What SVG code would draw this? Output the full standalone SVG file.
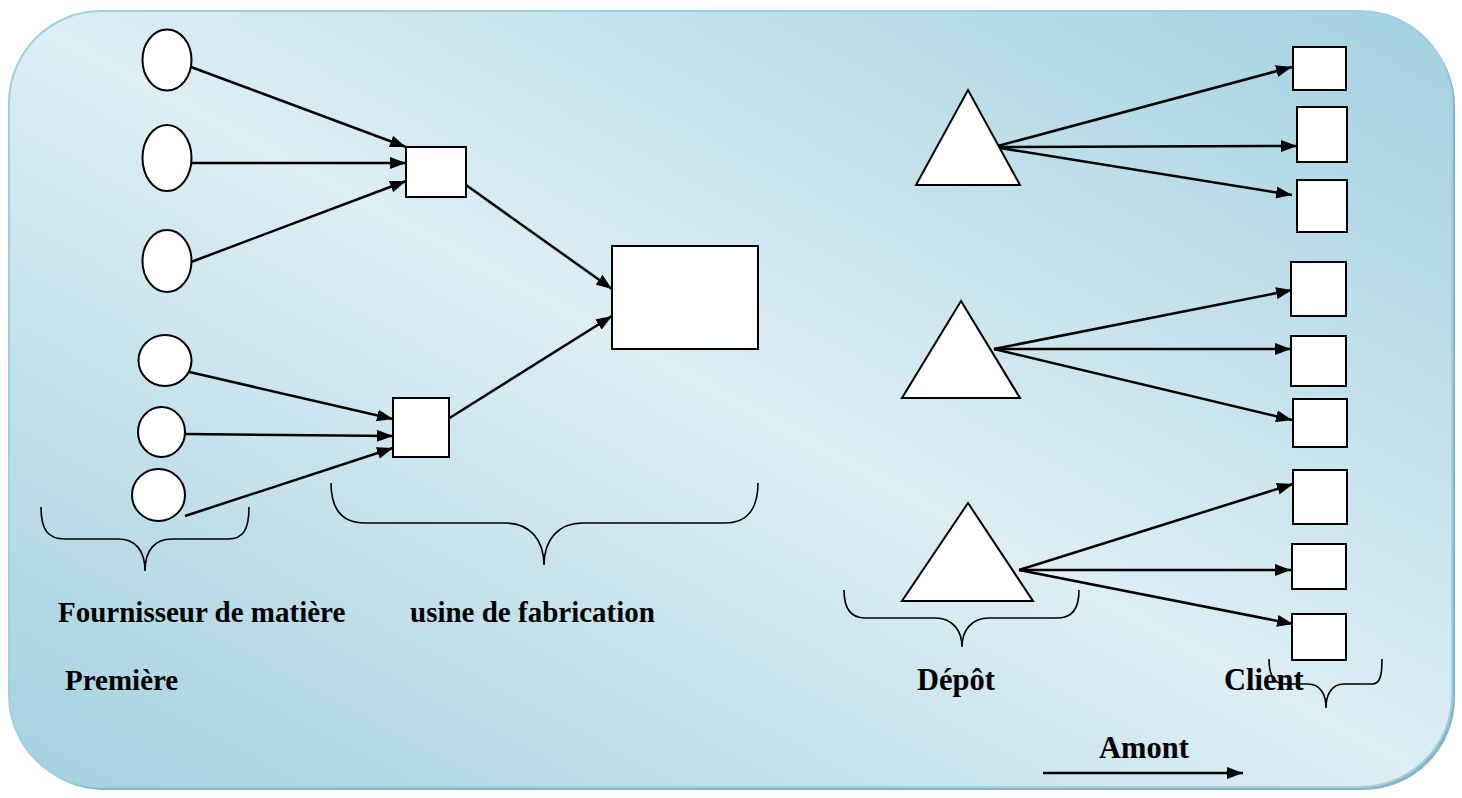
<svg xmlns="http://www.w3.org/2000/svg" width="1462" height="798" viewBox="0 0 1462 798">
<style>
.node{fill:#fff;stroke:#000;stroke-width:2}
.edge{fill:none;stroke:#000;stroke-width:2.5;marker-end:url(#arr)}
.brace{fill:none;stroke:#000;stroke-width:1.6}
.lbl{font-family:"Liberation Serif","Times New Roman",serif;font-weight:bold;font-size:29px;fill:#000}
</style>
<defs>
<linearGradient id="bg" x1="0" y1="1" x2="1" y2="0">
<stop offset="0" stop-color="#a4d1e0"/>
<stop offset="0.5" stop-color="#ddeef4"/>
<stop offset="1" stop-color="#a2d1e0"/>
</linearGradient>
<marker id="arr" viewBox="0 0 16 12" refX="16" refY="6" markerWidth="16" markerHeight="12" markerUnits="userSpaceOnUse" orient="auto">
<path d="M0,0 L16,6 L0,12 z" fill="#000"/>
</marker>
</defs>
<g id="background">
<rect x="12" y="14" width="1443" height="776" rx="92" ry="92" fill="#86b5c7"/>
<rect x="9" y="11" width="1443" height="776" rx="92" ry="92" fill="url(#bg)" stroke="#9fd0e0" stroke-width="2"/>
</g>
<g id="connectors">
<line class="edge" x1="191" y1="67" x2="406" y2="147"/>
<line class="edge" x1="191" y1="163" x2="406" y2="163"/>
<line class="edge" x1="191" y1="262" x2="406" y2="181"/>
<line class="edge" x1="185" y1="371" x2="393" y2="419"/>
<line class="edge" x1="185" y1="434" x2="393" y2="436"/>
<line class="edge" x1="185" y1="516" x2="393" y2="448"/>
<line class="edge" x1="466" y1="185" x2="612" y2="289"/>
<line class="edge" x1="448" y1="419" x2="612" y2="316"/>
<line class="edge" x1="994" y1="147" x2="1292" y2="67"/>
<line class="edge" x1="994" y1="147" x2="1297" y2="146"/>
<line class="edge" x1="994" y1="147" x2="1292" y2="195"/>
<line class="edge" x1="994" y1="349" x2="1292" y2="290"/>
<line class="edge" x1="994" y1="349" x2="1291" y2="349"/>
<line class="edge" x1="994" y1="349" x2="1292" y2="420"/>
<line class="edge" x1="1019" y1="570" x2="1293" y2="484"/>
<line class="edge" x1="1019" y1="570" x2="1291" y2="570"/>
<line class="edge" x1="1019" y1="570" x2="1293" y2="624"/>
<line class="edge" x1="1043" y1="773" x2="1243" y2="773"/>
</g>
<g id="fournisseurs">
<ellipse class="node" cx="167" cy="60" rx="24.5" ry="30.5"/>
<ellipse class="node" cx="167" cy="158" rx="24.5" ry="33"/>
<ellipse class="node" cx="167" cy="261" rx="24.5" ry="31"/>
<ellipse class="node" cx="165" cy="360.5" rx="26.5" ry="25.5"/>
<ellipse class="node" cx="161.5" cy="432" rx="23.5" ry="25"/>
<ellipse class="node" cx="158.5" cy="495" rx="26.5" ry="26"/>
</g>
<g id="usines">
<rect class="node" x="406" y="147" width="60" height="50"/>
<rect class="node" x="393" y="398" width="56" height="59"/>
<rect class="node" x="612" y="246" width="146" height="103"/>
</g>
<g id="depots">
<polygon class="node" points="968,90 916,185 1020,185"/>
<polygon class="node" points="961,301 902,398 1020,398"/>
<polygon class="node" points="968,503 902,601 1033,601"/>
</g>
<g id="clients">
<rect class="node" x="1293" y="47" width="53" height="43"/>
<rect class="node" x="1297" y="107" width="50" height="55"/>
<rect class="node" x="1297" y="180" width="50" height="52"/>
<rect class="node" x="1291" y="262" width="55" height="54"/>
<rect class="node" x="1291" y="336" width="55" height="50"/>
<rect class="node" x="1293" y="399" width="54" height="48"/>
<rect class="node" x="1293" y="470" width="54" height="54"/>
<rect class="node" x="1292" y="544" width="54" height="45"/>
<rect class="node" x="1292" y="614" width="54" height="46"/>
</g>
<g id="braces">
<path class="brace" d="M41,507 C41,530 48,539 65,539 L118,539 C135,539 145,550 145,571 C145,550 155,539 172,539 L228,539 C243,539 249,530 249,507"/>
<path class="brace" d="M331,483 C331,510 343,523 365,523 L505,523 C530,523 544,540 544,565 C544,540 558,523 583,523 L725,523 C746,523 758,510 758,483"/>
<path class="brace" d="M844,590 C844,608 850,618 865,618 L935,618 C952,618 962,630 962,647 C962,630 972,618 989,618 L1058,618 C1073,618 1079,608 1079,590"/>
<path class="brace" d="M1269,659 C1269,676 1274,684 1285,684 L1308,684 C1320,684 1326,694 1326,708 C1326,694 1332,684 1344,684 L1372,684 C1380,684 1382,676 1382,659"/>
</g>
<g id="labels">
<text class="lbl" x="58" y="622">Fournisseur de matière</text>
<text class="lbl" x="65" y="690">Première</text>
<text class="lbl" x="410" y="622">usine de fabrication</text>
<text class="lbl" x="917" y="690" style="font-size:30.5px">Dépôt</text>
<text class="lbl" x="1224" y="690" style="font-size:30.5px">Client</text>
<text class="lbl" x="1099" y="758" style="font-size:30.5px">Amont</text>
</g>
</svg>
